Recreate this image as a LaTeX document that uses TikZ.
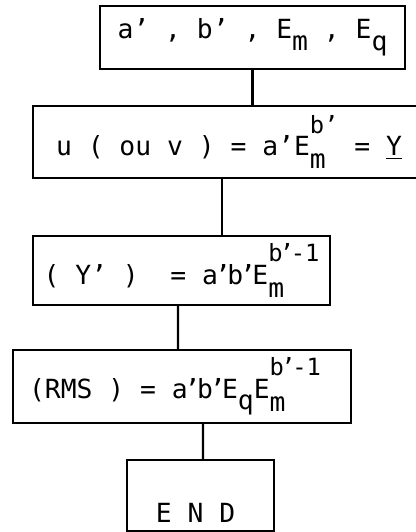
\documentclass[tikz,border=0pt]{standalone}
\usepackage{fontspec}
\setmainfont{DejaVu Sans Mono}
\newcommand{\ap}{\makebox[0.35em][c]{’}}
\newcommand{\lo}[1]{\raisebox{-0.45em}{#1}}
\newcommand{\hilo}[2]{\rlap{\raisebox{-0.5em}{#2}}\raisebox{0.85em}{\fontsize{13.5}{16}\selectfont #1}}
\tikzset{
  calcbox/.style={draw, line width=1.2pt, inner sep=0pt, align=center,
    font=\fontsize{15}{18}\selectfont}
}
\begin{document}
\begin{tikzpicture}[line width=1.2pt]
  \clip (0,0) rectangle (8.32,-10.64);
  % boxes of the chain
  \node[calcbox,minimum width=6.1cm,minimum height=1.26cm] (inp) at (5.05,-0.75) {a’ , b’ , E\lo{m} , E\lo{q}};
  \node[calcbox,minimum width=7.84cm,minimum height=1.44cm] (law) at (4.58,-2.84) {u ( ou v ) = a’E\hilo{b’}{m} = \underline{Y}};
  \node[calcbox,minimum width=5.94cm,minimum height=1.38cm] (deriv) at (3.63,-5.41) {(~Y’~)~~=~a\ap b\ap E\hilo{b\ap-1}{m}};
  \node[calcbox,minimum width=6.76cm,minimum height=1.46cm] (rms) at (3.64,-7.73) {(RMS~)~=~a\ap b\ap E\lo{q}E\hilo{b\ap-1}{m}\hspace{0.28cm}};
  \node[calcbox,minimum width=2.94cm,minimum height=1.42cm] (fin) at (4.01,-9.91) {\smash{\raisebox{-0.53cm}{E N D}}\hspace{0.2cm}};
  % links
  \draw (inp.south) -- (inp.south |- law.north);
  \draw ([xshift=-0.14cm]law.south) -- ([xshift=0.81cm]deriv.north);
  \draw ([xshift=-0.07cm]deriv.south) -- ([xshift=-0.08cm]rms.north);
  \draw ([xshift=0.42cm]rms.south) -- ([xshift=0.05cm]fin.north);
\end{tikzpicture}
\end{document}
